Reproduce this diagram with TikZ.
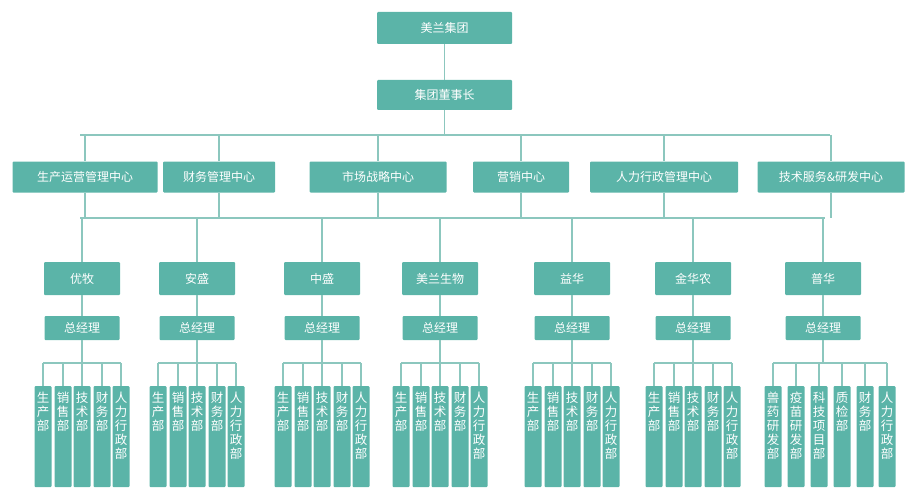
\documentclass[tikz,border=0pt]{standalone}
\usepackage{fontspec}
\setmainfont{Noto Sans CJK SC}
\usetikzlibrary{positioning}
\definecolor{boxteal}{HTML}{5BB4A8}
\definecolor{lineteal}{HTML}{8CC7BE}
\tikzset{
  box/.style={fill=boxteal, text=white, draw=none, rounded corners=1pt, font=\fontsize{12}{14}\selectfont, inner sep=0pt},
  dept/.style={fill=boxteal, rounded corners=1pt, minimum width=17pt, minimum height=101pt, inner sep=0pt, anchor=north},
  depttxt/.style={text=white, font=\fontsize{12.5}{14}\selectfont, align=center, anchor=north, inner sep=0pt},
  link/.style={draw=lineteal, line width=1.1pt}
}
\begin{document}
\begin{tikzpicture}[x=1pt,y=-1pt]
  \useasboundingbox (0,0) rectangle (923,500);
  % top
  \node[box, minimum width=135pt, minimum height=32pt] (group) at (444.5,28) {美兰集团};
  \node[box, minimum width=135pt, minimum height=30pt] (chair) at (444.5,95) {集团董事长};
  \draw[link] (group) -- (chair);
  % centres
  \coordinate (busA) at (444.5,135);
  \draw[link] (chair) -- (busA);
  \draw[link] (80,135) -- (830,135);
  \foreach \nm/\cx/\w/\txt in {c1/85/145/生产运营管理中心, c2/219/112/财务管理中心, c3/378/137/市场战略中心,
      c4/521/96/营销中心, c5/664/148/人力行政管理中心, c6/831/147/技术服务\&研发中心}{
    \node[box, minimum width=\w pt, minimum height=31pt] (\nm) at (\cx,177) {\txt};
    \coordinate (\nm top) at (\cx,135);
    \coordinate (\nm bot) at (\cx,218);
    \draw[link] (\nm top) -- (\nm) -- (\nm bot);
  }
  \draw[link] (80,218) -- (825,218);
  % companies
  \foreach \nm/\cx/\txt in {k1/82/优牧, k2/197/安盛, k3/322/中盛, k4/440/美兰生物,
      k5/572/益华, k6/693/金华农, k7/823/普华}{
    \coordinate (\nm top) at (\cx,218);
    \node[box, minimum width=76pt, minimum height=33pt] (\nm) at (\cx,278.5) {\txt};
    \node[box, minimum width=75pt, minimum height=24pt] (\nm gm) at (\cx,328) {总经理};
    \coordinate (\nm bus) at (\cx,363);
    \draw[link] (\nm top) -- (\nm) -- (\nm gm) -- (\nm bus);
  }
  % departments (five each)
  \foreach \nm/\cx in {k1/82, k2/197, k3/322, k4/440, k5/572, k6/693}{
    \draw[link] ([xshift=-39pt]\nm bus) -- ([xshift=39pt]\nm bus);
    \foreach \dx/\txt [count=\k] in {-39/{生\\产\\部}, -19/{销\\售\\部}, 0/{技\\术\\部},
        20/{财\\务\\部}, 39/{人\\力\\行\\政\\部}}{
      \node[dept] (\nm d\k) at (\cx+\dx,386) {};
      \node[depttxt] at ([yshift=-6pt]\nm d\k.north) {\txt};
      \draw[link] ([xshift=\dx pt]\nm bus) -- (\nm d\k);
    }
  }
  % 普华 six departments
  \draw[link] (773,363) -- (887,363);
  \foreach \x/\txt [count=\k] in {773/{兽\\药\\研\\发\\部}, 796/{疫\\苗\\研\\发\\部}, 819/{科\\技\\项\\目\\部},
      842/{质\\检\\部}, 865/{财\\务\\部}, 887/{人\\力\\行\\政\\部}}{
    \coordinate (pb\k) at (\x,363);
    \node[dept] (k7d\k) at (\x,386) {};
    \node[depttxt] at ([yshift=-6pt]k7d\k.north) {\txt};
    \draw[link] (pb\k) -- (k7d\k);
  }
\end{tikzpicture}
\end{document}
